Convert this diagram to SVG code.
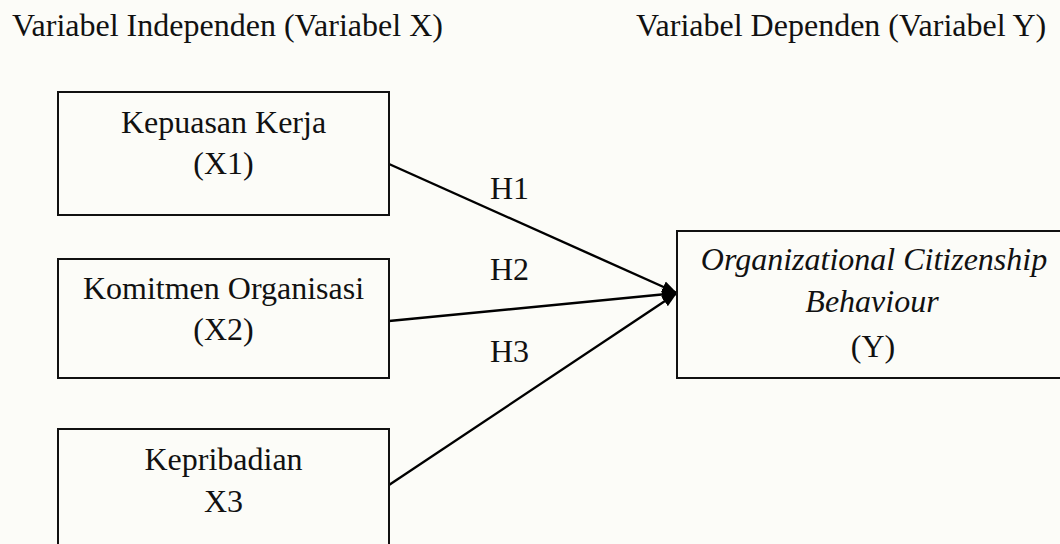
<svg xmlns="http://www.w3.org/2000/svg" width="1060" height="544" viewBox="0 0 1060 544">
<style>
text{font-family:"Liberation Serif","Times New Roman",serif;font-size:32px;fill:#111}
.c{text-anchor:middle}
.i{font-style:italic}
.box{fill:none;stroke:#111;stroke-width:2}
.edge{stroke:#000;stroke-width:2.4;fill:none;marker-end:url(#ah)}
</style>
<defs>
<marker id="ah" markerUnits="userSpaceOnUse" markerWidth="16" markerHeight="14" refX="15" refY="7" orient="auto">
<path d="M0,1 L15,7 L0,13 Z" fill="#000"/>
</marker>
</defs>
<rect width="1060" height="544" fill="#fcfcf8"/>
<text x="12" y="36">Variabel Independen (Variabel X)</text>
<text x="636" y="36">Variabel Dependen (Variabel Y)</text>
<g id="connectors">
<line class="edge" x1="389" y1="164" x2="677" y2="293"/>
<line class="edge" x1="389" y1="321" x2="677" y2="293"/>
<line class="edge" x1="389" y1="485" x2="677" y2="293"/>
<text x="490" y="199">H1</text>
<text x="490" y="280">H2</text>
<text x="490" y="362">H3</text>
</g>
<g id="x1">
<rect class="box" x="58" y="92" width="331" height="123"/>
<text class="c" x="223.5" y="133">Kepuasan Kerja</text>
<text class="c" x="223.5" y="174">(X1)</text>
</g>
<g id="x2">
<rect class="box" x="58" y="259" width="331" height="119"/>
<text class="c" x="223.5" y="299">Komitmen Organisasi</text>
<text class="c" x="223.5" y="340">(X2)</text>
</g>
<g id="x3">
<rect class="box" x="58" y="429" width="331" height="130"/>
<text class="c" x="223.5" y="470">Kepribadian</text>
<text class="c" x="223.5" y="512">X3</text>
</g>
<g id="y">
<rect class="box" x="677" y="231" width="392" height="147"/>
<text class="c i" x="874" y="270">Organizational Citizenship</text>
<text class="c i" x="872" y="312">Behaviour</text>
<text class="c" x="873" y="357">(Y)</text>
</g>
</svg>
